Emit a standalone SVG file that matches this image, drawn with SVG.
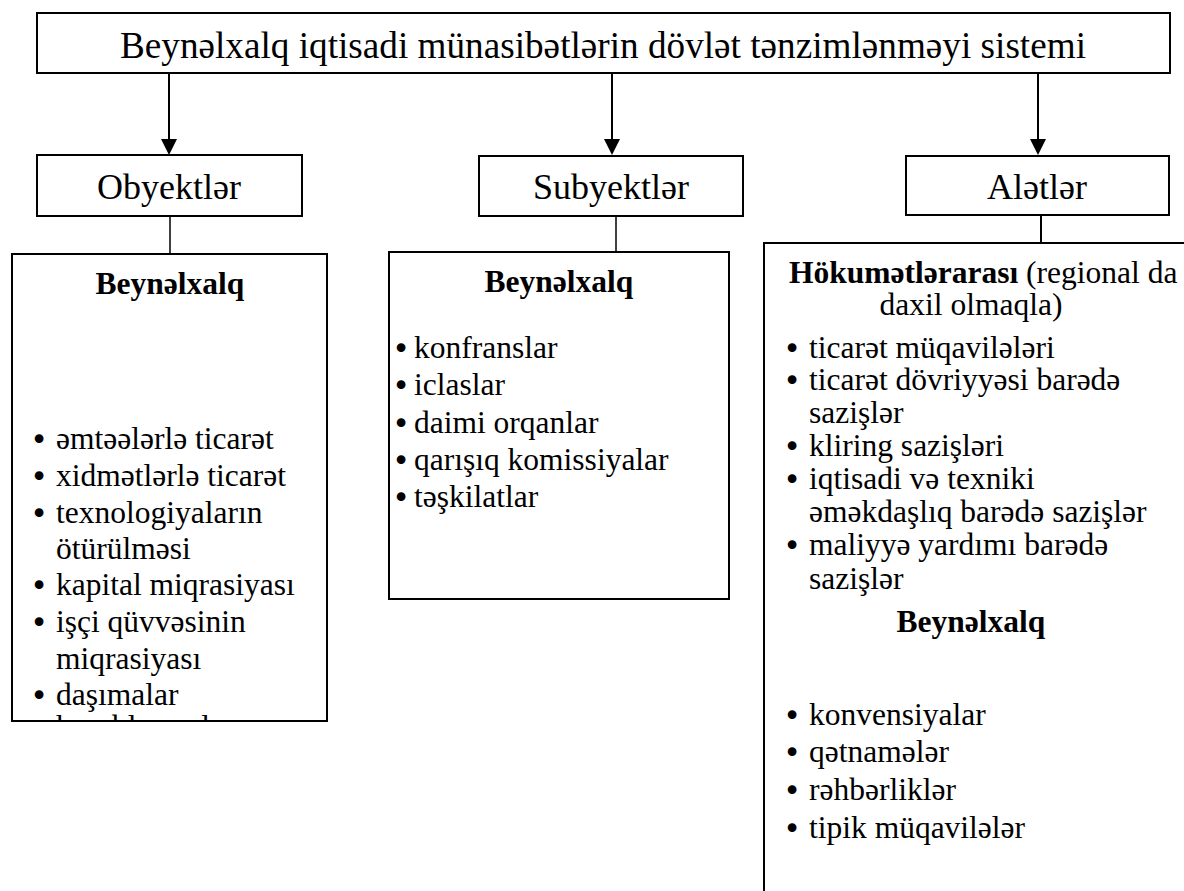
<svg xmlns="http://www.w3.org/2000/svg" width="1184" height="891" viewBox="0 0 1184 891">
  <style>
    text { fill: #000; font-family: "Liberation Serif", "Times New Roman", serif; }
    .box { fill: #fff; stroke: #000; stroke-width: 2; }
    .title { font-size: 38px; }
    .head { font-size: 36px; text-anchor: middle; }
    .item { font-size: 31.5px; }
    .bul { font-family: "DejaVu Sans", sans-serif; font-size: 30px; text-anchor: middle; }
    .bold { font-weight: bold; }
    .mid { text-anchor: middle; }
    .link { stroke: #000; stroke-width: 2; fill: none; }
    .thin { stroke: #000; stroke-width: 1.5; fill: none; }
  </style>
  <defs>
    <clipPath id="leftClip">
      <rect x="12" y="254" width="315" height="467"/>
    </clipPath>
  </defs>

  <!-- arrows from the system box and links to the lists -->
  <g id="connectors">
    <line class="link" x1="169" y1="74" x2="169" y2="140"/>
    <path d="M161,139 L177,139 L169,155 Z" fill="#000"/>
    <line class="link" x1="612" y1="74" x2="612" y2="140"/>
    <path d="M604,139 L620,139 L612,155 Z" fill="#000"/>
    <line class="link" x1="1038" y1="74" x2="1038" y2="140"/>
    <path d="M1030,139 L1046,139 L1038,155 Z" fill="#000"/>
    <line class="thin" x1="170" y1="216" x2="170" y2="254"/>
    <line class="thin" x1="616" y1="216" x2="616" y2="252"/>
    <line class="link" x1="1041" y1="215" x2="1041" y2="243"/>
  </g>

  <g id="title">
    <rect class="box" x="37" y="13" width="1133" height="60"/>
    <text class="title" x="120" y="58" textLength="966" lengthAdjust="spacingAndGlyphs">Beynəlxalq iqtisadi münasibətlərin dövlət tənzimlənməyi sistemi</text>
  </g>

  <g id="obyektler">
    <rect class="box" x="37" y="155" width="265" height="61"/>
    <text class="head" x="169" y="199">Obyektlər</text>
  </g>

  <g id="subyektler">
    <rect class="box" x="479" y="156" width="264" height="60"/>
    <text class="head" x="611" y="199">Subyektlər</text>
  </g>

  <g id="aletler">
    <rect class="box" x="906" y="156" width="263" height="59"/>
    <text class="head" x="1037" y="199">Alətlər</text>
  </g>

  <!-- objects list; the last line is cut off by the frame -->
  <g id="obyektler-list">
    <rect class="box" x="12" y="254" width="315" height="467"/>
    <g clip-path="url(#leftClip)" class="item">
      <text class="bold mid" x="170" y="294">Beynəlxalq</text>
      <text class="bul" x="39" y="450">•</text><text x="56" y="449">əmtəələrlə ticarət</text>
      <text class="bul" x="39" y="487">•</text><text x="56" y="486">xidmətlərlə ticarət</text>
      <text class="bul" x="39" y="524">•</text><text x="56" y="523">texnologiyaların</text>
      <text x="56" y="559">ötürülməsi</text>
      <text class="bul" x="39" y="596">•</text><text x="56" y="595">kapital miqrasiyası</text>
      <text class="bul" x="39" y="633">•</text><text x="56" y="632">işçi qüvvəsinin</text>
      <text x="56" y="669">miqrasiyası</text>
      <text class="bul" x="39" y="706">•</text><text x="56" y="705">daşımalar</text>
      <text x="56" y="737">hesablaşmalar</text>
    </g>
  </g>

  <g id="subyektler-list" class="item">
    <rect class="box" x="389" y="252" width="340" height="347"/>
    <text class="bold mid" x="559" y="292">Beynəlxalq</text>
    <text class="bul" x="401" y="359">•</text><text x="414" y="358">konfranslar</text>
    <text class="bul" x="401" y="396">•</text><text x="414" y="395">iclaslar</text>
    <text class="bul" x="401" y="434">•</text><text x="414" y="433">daimi orqanlar</text>
    <text class="bul" x="401" y="471">•</text><text x="414" y="470">qarışıq komissiyalar</text>
    <text class="bul" x="401" y="508">•</text><text x="414" y="507">təşkilatlar</text>
  </g>

  <!-- instruments list: open frame running off the right and bottom edges -->
  <g id="aletler-list" class="item">
    <path class="link" d="M764,891 L764,243 L1184,243"/>
    <text x="789" y="283"><tspan class="bold">Hökumətlərarası</tspan> (regional da</text>
    <text class="mid" x="971" y="315">daxil olmaqla)</text>
    <text class="bul" x="792" y="359">•</text><text x="809" y="358">ticarət müqavilələri</text>
    <text class="bul" x="792" y="391">•</text><text x="809" y="390">ticarət dövriyyəsi barədə</text>
    <text x="809" y="423">sazişlər</text>
    <text class="bul" x="792" y="457">•</text><text x="809" y="456">kliring sazişləri</text>
    <text class="bul" x="792" y="490">•</text><text x="809" y="489">iqtisadi və texniki</text>
    <text x="809" y="522">əməkdaşlıq barədə sazişlər</text>
    <text class="bul" x="792" y="556">•</text><text x="809" y="555">maliyyə yardımı barədə</text>
    <text x="809" y="589">sazişlər</text>
    <text class="bold mid" x="971" y="632">Beynəlxalq</text>
    <text class="bul" x="792" y="726">•</text><text x="809" y="725">konvensiyalar</text>
    <text class="bul" x="792" y="763">•</text><text x="809" y="762">qətnamələr</text>
    <text class="bul" x="792" y="801">•</text><text x="809" y="800">rəhbərliklər</text>
    <text class="bul" x="792" y="839">•</text><text x="809" y="838">tipik müqavilələr</text>
  </g>
</svg>
